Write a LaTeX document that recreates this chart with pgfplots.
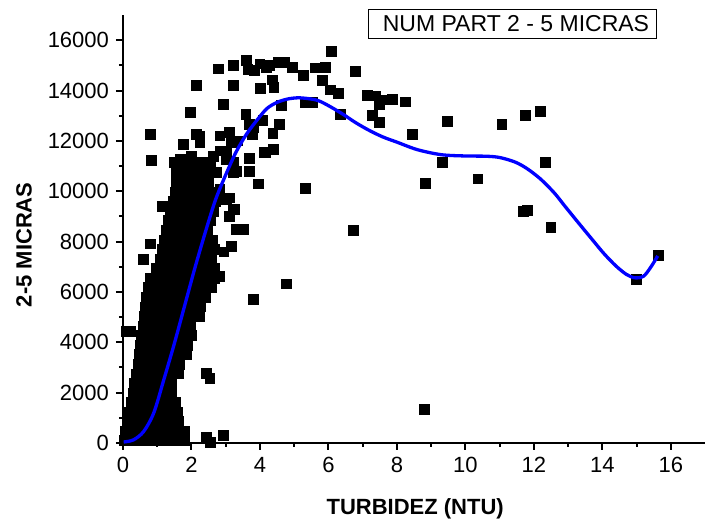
\documentclass[border=0pt]{standalone}
\usepackage{pgfplots}
\pgfplotsset{compat=1.18}
\usepackage{fontspec}
\setmainfont{Liberation Sans}
\begin{document}
\begin{tikzpicture}
\begin{axis}[
  scale only axis, width=291pt, height=214pt,
  xmin=0, xmax=17, ymin=0, ymax=17000,
  axis x line=bottom, axis y line=left,
  axis line style={-, line width=1.3pt, black},
  xtick={0,2,...,16}, ytick={0,2000,...,16000},
  minor x tick num=1, minor y tick num=1,
  tick align=outside,
  major tick length=3.5pt, minor tick length=2pt,
  major tick style={line width=1pt, black},
  minor tick style={line width=1pt, black},
  tick label style={font=\fontsize{11}{13}\selectfont},
  /pgf/number format/assume math mode=true,
  /pgf/number format/1000 sep={},
  scaled y ticks=false,
  xlabel={TURBIDEZ (NTU)}, ylabel={2-5 MICRAS},
  label style={font=\bfseries\fontsize{11}{13}\selectfont},
  xlabel style={at={(axis description cs:0.502,-0.154)}, anchor=center},
  ylabel style={at={(axis description cs:-0.170,0.463)}, anchor=center},
  clip=false,
  clip marker paths=true,
  set layers,
]
\addplot[only marks, mark=square*, mark size=2.45pt, mark options={fill=black, draw=black, line width=0.1pt}]
table[row sep=\\] {
x y\\
0.02 100\\ 0.27 100\\ 0.52 100\\ 0.77 100\\ 1.02 100\\ 1.27 100\\ 1.52 100\\ 1.8 100\\
0.05 480\\ 0.3 480\\ 0.55 480\\ 0.8 480\\ 1.05 480\\ 1.3 480\\ 1.55 480\\ 1.8 480\\
0.12 860\\ 0.37 860\\ 0.62 860\\ 0.87 860\\ 1.12 860\\ 1.37 860\\ 1.62 860\\
0.17 1240\\ 0.42 1240\\ 0.67 1240\\ 0.92 1240\\ 1.17 1240\\ 1.42 1240\\ 1.58 1240\\
0.22 1620\\ 0.47 1620\\ 0.72 1620\\ 0.97 1620\\ 1.22 1620\\ 1.47 1620\\ 1.52 1620\\
0.28 2000\\ 0.53 2000\\ 0.78 2000\\ 1.03 2000\\ 1.28 2000\\ 1.42 2000\\
0.33 2380\\ 0.58 2380\\ 0.83 2380\\ 1.08 2380\\ 1.33 2380\\ 1.42 2380\\
0.38 2760\\ 0.63 2760\\ 0.88 2760\\ 1.13 2760\\ 1.38 2760\\ 1.6 2760\\
0.43 3140\\ 0.68 3140\\ 0.93 3140\\ 1.18 3140\\ 1.43 3140\\ 1.65 3140\\
0.47 3520\\ 0.72 3520\\ 0.97 3520\\ 1.22 3520\\ 1.47 3520\\ 1.72 3520\\ 1.85 3520\\
0.5 3900\\ 0.75 3900\\ 1.0 3900\\ 1.25 3900\\ 1.5 3900\\ 1.75 3900\\ 1.88 3900\\
0.54 4280\\ 0.79 4280\\ 1.04 4280\\ 1.29 4280\\ 1.54 4280\\ 1.79 4280\\ 2.0 4280\\
0.57 4660\\ 0.82 4660\\ 1.07 4660\\ 1.32 4660\\ 1.57 4660\\ 1.82 4660\\ 1.95 4660\\
0.6 5040\\ 0.85 5040\\ 1.1 5040\\ 1.35 5040\\ 1.6 5040\\ 1.85 5040\\ 2.05 5040\\ 2.22 5040\\
0.64 5420\\ 0.89 5420\\ 1.14 5420\\ 1.39 5420\\ 1.64 5420\\ 1.89 5420\\ 2.1 5420\\ 2.25 5420\\
0.68 5800\\ 0.93 5800\\ 1.18 5800\\ 1.43 5800\\ 1.68 5800\\ 1.93 5800\\ 2.18 5800\\ 2.4 5800\\
0.72 6180\\ 0.97 6180\\ 1.22 6180\\ 1.47 6180\\ 1.72 6180\\ 1.97 6180\\ 2.22 6180\\ 2.47 6180\\ 2.58 6180\\
0.8 6560\\ 1.05 6560\\ 1.3 6560\\ 1.55 6560\\ 1.8 6560\\ 2.05 6560\\ 2.3 6560\\ 2.5 6560\\ 2.65 6560\\
0.95 6940\\ 1.2 6940\\ 1.45 6940\\ 1.7 6940\\ 1.95 6940\\ 2.2 6940\\ 2.45 6940\\ 2.65 6940\\
1.08 7320\\ 1.33 7320\\ 1.58 7320\\ 1.83 7320\\ 2.08 7320\\ 2.33 7320\\ 2.58 7320\\
1.15 7700\\ 1.4 7700\\ 1.65 7700\\ 1.9 7700\\ 2.15 7700\\ 2.4 7700\\ 2.65 7700\\
1.2 8080\\ 1.45 8080\\ 1.7 8080\\ 1.95 8080\\ 2.2 8080\\ 2.45 8080\\ 2.6 8080\\
1.25 8460\\ 1.5 8460\\ 1.75 8460\\ 2.0 8460\\ 2.25 8460\\ 2.45 8460\\
1.3 8840\\ 1.55 8840\\ 1.8 8840\\ 2.05 8840\\ 2.3 8840\\ 2.55 8840\\
1.38 9220\\ 1.63 9220\\ 1.88 9220\\ 2.13 9220\\ 2.38 9220\\ 2.63 9220\\
1.45 9600\\ 1.7 9600\\ 1.95 9600\\ 2.2 9600\\ 2.45 9600\\ 2.7 9600\\
1.52 9980\\ 1.77 9980\\ 2.02 9980\\ 2.27 9980\\ 2.52 9980\\ 2.7 9980\\
1.56 10360\\ 1.81 10360\\ 2.06 10360\\ 2.31 10360\\ 2.5 10360\\
1.55 10740\\ 1.8 10740\\ 2.05 10740\\ 2.3 10740\\ 2.5 10740\\
1.5 11150\\ 1.75 11150\\ 2.0 11150\\ 2.25 11150\\ 2.55 11150\\
1.14 9420\\ 0.79 7920\\ 0.59 7290\\ 0.81 11250\\ 0.79 12280\\
3.16 7820\\ 3.5 8490\\ 3.31 8490\\ 3.26 9290\\ 3.11 9750\\ 3.02 9690\\ 2.82 10080\\ 3.11 9020\\ 2.94 7600\\
3.94 10300\\ 3.69 10810\\ 3.31 10810\\ 3.69 11310\\ 4.13 11550\\ 2.82 12210\\ 3.11 12340\\ 2.14 12280\\ 2.24 12210\\
1.75 11880\\ 2.87 11610\\ 3.02 11610\\ 1.95 13140\\ 2.92 13470\\ 3.58 13070\\ 2.82 6630\\
2.43 2780\\ 2.53 2580\\ 2.43 250\\ 2.55 50\\ 2.92 320\\ 0.2 4440\\ 0.1 4440\\
1.66 11280\\ 2.0 11410\\ 2.24 11010\\ 2.63 11410\\ 2.82 11610\\ 3.02 11280\\ 3.21 11150\\ 2.73 10750\\ 3.21 10770\\
2.24 11950\\ 3.35 12010\\ 3.16 11950\\ 3.26 11950\\
2.14 14230\\ 2.77 14870\\ 3.21 14200\\ 3.21 15000\\ 3.60 15200\\ 3.64 14840\\ 3.84 14800\\ 3.99 15070\\ 4.18 14940\\ 4.28 15000\\
4.01 14100\\ 4.35 14430\\ 4.40 14140\\ 4.52 15130\\ 4.71 15130\\ 4.94 14940\\ 5.27 14600\\ 5.61 14910\\ 5.91 14930\\ 6.09 15570\\
6.78 14780\\ 5.81 14400\\ 6.05 14040\\ 6.28 13910\\ 5.31 13540\\ 5.54 13540\\ 6.33 13070\\ 5.32 10110\\ 6.73 8450\\
4.62 13410\\ 4.57 12680\\ 4.37 12300\\ 4.39 11680\\ 4.16 11550\\ 3.81 12540\\ 3.76 12280\\ 4.08 12810\\ 3.69 12670\\
3.21 9290\\ 3.79 5700\\ 4.76 6330\\ 8.79 1355\\
7.14 13830\\ 7.38 13800\\ 7.57 13640\\ 7.86 13670\\ 8.25 13560\\ 7.48 13470\\ 7.28 13010\\ 7.48 12740\\ 8.45 12280\\
9.46 12780\\ 8.83 10310\\ 9.32 11170\\ 10.36 10500\\ 11.06 12680\\ 11.74 13030\\ 12.18 13170\\ 12.33 11170\\
11.69 9200\\ 11.81 9250\\ 12.49 8580\\ 14.99 6500\\ 15.62 7470\\
};
\addplot[blue, line width=1.65pt, smooth, no marks, on layer=axis foreground] coordinates {
(0.02,40) (0.3,120) (0.6,450) (0.9,1200) (1.2,2550) (1.5,3950) (1.8,5450) (2.1,6950) (2.4,8350)
(2.7,9650) (3.0,10650) (3.3,11550) (3.6,12250) (3.9,12800) (4.2,13280) (4.5,13530) (4.8,13660)
(5.1,13710) (5.4,13680) (5.7,13600) (6.0,13400) (6.4,13080) (6.8,12720) (7.2,12410) (7.6,12150)
(8.0,11950) (8.6,11650) (9.3,11450) (10.0,11400) (10.6,11390) (11.0,11340) (11.45,11160)
(11.8,10900) (12.2,10480) (12.6,9930) (12.9,9420) (13.3,8750) (13.7,8090) (14.05,7520)
(14.4,7030) (14.7,6700) (14.95,6560) (15.2,6620) (15.4,6950) (15.62,7430)
};
\node[draw, line width=0.5pt, inner xsep=3.6pt, inner ysep=0pt, minimum height=14.5pt,
  font=\fontsize{11.5}{13}\selectfont, anchor=center] at (rel axis cs:0.669,0.979)
  {\hspace*{3.6pt}NUM PART 2 - 5 MICRAS};
\coordinate (bl) at (rel axis cs:0,0);
\coordinate (tr) at (rel axis cs:1,1);
\end{axis}
\pgfresetboundingbox
\path[use as bounding box] ([shift={(-61.5pt,-42pt)}]bl) rectangle ([shift={(3.5pt,7.5pt)}]tr);
\end{tikzpicture}
\end{document}
